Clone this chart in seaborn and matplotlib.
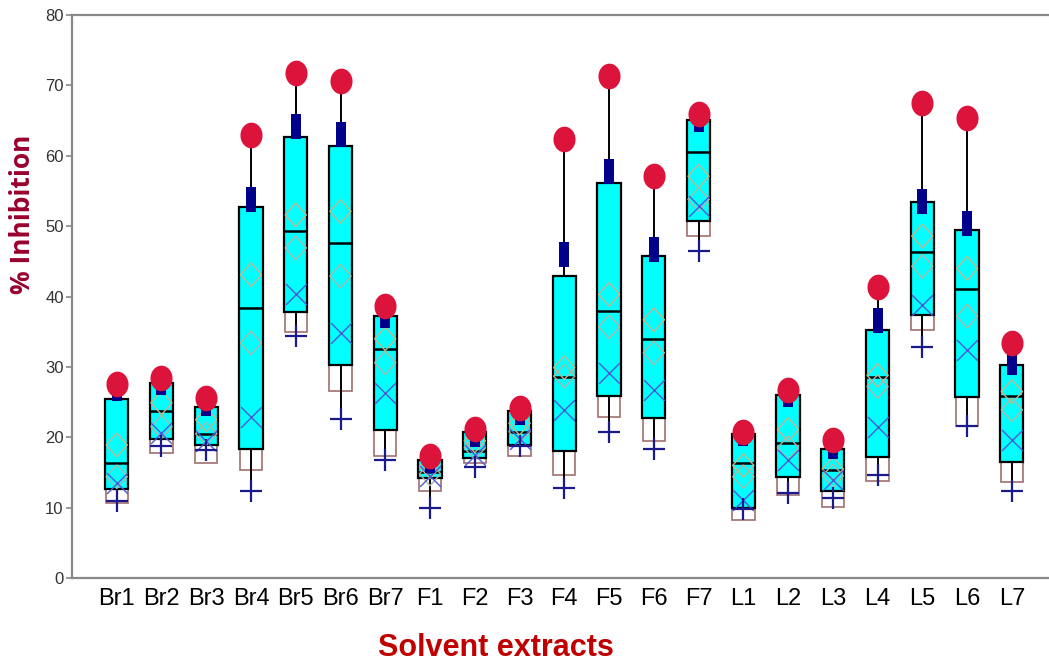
import numpy as np
import pandas as pd
import matplotlib.pyplot as plt
import seaborn as sns

extracts = ['Br1', 'Br2', 'Br3', 'Br4', 'Br5', 'Br6', 'Br7',
            'F1', 'F2', 'F3', 'F4', 'F5', 'F6', 'F7',
            'L1', 'L2', 'L3', 'L4', 'L5', 'L6', 'L7']

# values (% inhibition)
max_vals = [27.5, 28.4, 25.6, 63.0, 71.8, 70.6, 38.6, 17.3, 21.2, 24.1, 62.4,
            71.3, 57.1, 65.9, 20.8, 26.7, 19.6, 41.4, 67.5, 65.4, 33.4]
p99_vals = [27.0, 27.9, 24.9, 53.9, 64.3, 63.1, 37.4, 16.7, 20.5, 23.6, 46.0,
            57.9, 46.8, 65.2, 20.6, 26.2, 18.8, 36.6, 53.6, 50.5, 30.7]
q3_vals = [25.4, 27.7, 24.3, 52.7, 62.6, 61.4, 37.2, 16.8, 20.8, 23.7, 42.9,
           56.2, 45.8, 65.1, 20.4, 26.0, 18.3, 35.2, 53.4, 49.4, 30.2]
med_vals = [16.3, 23.7, 20.5, 38.4, 49.3, 47.6, 32.5, 15.1, 18.0, 20.8, 28.6,
            37.9, 33.9, 60.5, 16.3, 19.2, 15.3, 28.6, 46.3, 41.0, 25.9]
q1_vals = [12.6, 19.7, 18.9, 18.3, 37.8, 30.2, 21.1, 14.2, 17.0, 18.9, 18.0,
           25.9, 22.7, 50.8, 9.9, 14.3, 12.3, 17.2, 37.4, 25.7, 16.5]
p1_vals = [10.7, 17.7, 16.4, 15.3, 35.0, 26.6, 17.4, 12.3, 16.3, 17.3, 14.6,
           22.9, 19.4, 48.6, 8.2, 11.8, 10.1, 13.8, 35.3, 21.6, 13.6]
min_vals = [11.0, 18.7, 18.2, 12.3, 34.4, 22.6, 16.8, 9.9, 15.8, 18.7, 12.8,
            20.8, 18.4, 46.4, 9.8, 12.1, 11.3, 14.7, 32.8, 21.6, 12.4]
mean_vals = [18.9, 24.9, 22.5, 43.1, 51.6, 52.1, 34.0, 15.8, 19.5, 22.0, 29.9,
             40.3, 36.7, 57.1, 16.0, 21.1, 15.5, 28.8, 48.6, 44.0, 26.5]
diam2_vals = [14.4, 21.5, 20.5, 33.4, 46.9, 42.9, 30.6, 14.8, 18.5, 20.8, 28.7,
              35.7, 32.0, 53.8, 14.4, 18.5, 14.5, 27.2, 44.3, 37.2, 23.9]
x_vals = [13.5, 20.6, 19.5, 22.9, 40.3, 34.8, 26.3, 14.5, 17.5, 19.8, 23.9,
          29.2, 26.7, 52.8, 11.1, 16.8, 13.9, 21.5, 38.8, 32.4, 19.6]

sns.set_style('white')
plt.rcParams['font.family'] = ['Liberation Sans Narrow', 'Liberation Sans', 'DejaVu Sans']

# five numbers per extract -> boxplot quartiles and whisker ends
rows = []
for i, e in enumerate(extracts):
    for v in (min_vals[i], q1_vals[i], med_vals[i], q3_vals[i], max_vals[i]):
        rows.append((e, v))
df = pd.DataFrame(rows, columns=['Extract', 'Inhibition'])
pos = np.arange(len(extracts))

fig = plt.figure(figsize=(10.49, 6.65), dpi=100)
ax = fig.add_axes([0.0686, 0.1308, 0.9314, 0.8466])

# percentile boxes under the main boxes
ax.bar(pos, np.array(q1_vals) - np.array(p1_vals), bottom=p1_vals, width=0.5,
       fill=False, edgecolor='#a07070', linewidth=1.2, zorder=0.8)

sns.boxplot(data=df, x='Extract', y='Inhibition', order=extracts, ax=ax,
            whis=(0, 100), width=0.52, color='#00ffff', saturation=1,
            linecolor='black', linewidth=1.6, showcaps=False, fliersize=0,
            medianprops={'color': 'black', 'linewidth': 1.8},
            whiskerprops={'color': 'black', 'linewidth': 1.4})

diamond = [(0, 1), (0.9, 0), (0, -1), (-0.9, 0), (0, 1)]
ax.scatter(pos, mean_vals, marker=diamond, s=17 ** 2, facecolors='none',
           edgecolors='#c0b890', linewidths=1.0, zorder=3)
ax.scatter(pos, diam2_vals, marker=diamond, s=17 ** 2, facecolors='none',
           edgecolors='#a8b8a8', linewidths=1.0, zorder=3)
ax.scatter(pos, x_vals, marker='x', s=15 ** 2, color='#4a5ad8', linewidths=1.0, zorder=3)
ax.scatter(pos, min_vals, marker='+', s=16 ** 2, color='#1a1a8c', linewidths=1.6, zorder=3)

rect = [(-0.4, -1), (0.4, -1), (0.4, 1), (-0.4, 1), (-0.4, -1)]
sns.scatterplot(x=pos, y=p99_vals, marker=rect, s=18 ** 2, color='#00008b',
                linewidth=0, ax=ax, zorder=4)
t = np.linspace(0, 2 * np.pi, 40)
oval = list(zip(0.86 * np.cos(t), np.sin(t)))
sns.scatterplot(x=pos, y=max_vals, marker=oval, s=18.5 ** 2, color='#dc143c',
                linewidth=0, ax=ax, zorder=5)

ax.set_xlim(-1.0, 20.83)
ax.set_ylim(0, 80)
ax.set_yticks(range(0, 81, 10))
ax.set_xticks(pos)
ax.set_xticklabels(extracts, fontsize=17, color='black')
ax.tick_params(axis='x', length=0, pad=7)
ax.tick_params(axis='y', length=4, width=1.2, color='#888888', labelsize=12,
               labelcolor='#333333', pad=2, left=True)
ax.set_xlabel('')
ax.set_ylabel('')
for s in ['left', 'top', 'bottom']:
    ax.spines[s].set_color('#888888')
    ax.spines[s].set_linewidth(1.6)
ax.spines['right'].set_visible(False)

fig.text(0.021, 0.677, '% Inhibition', rotation=90, ha='center', va='center',
         fontsize=19, fontweight='bold', color='#99002e', family=['Open Sans', 'DejaVu Sans'])
fig.text(0.473, 0.026, 'Solvent extracts', ha='center', va='center',
         fontsize=22, fontweight='bold', color='#c00000')

fig.savefig('out.png', dpi=100)
